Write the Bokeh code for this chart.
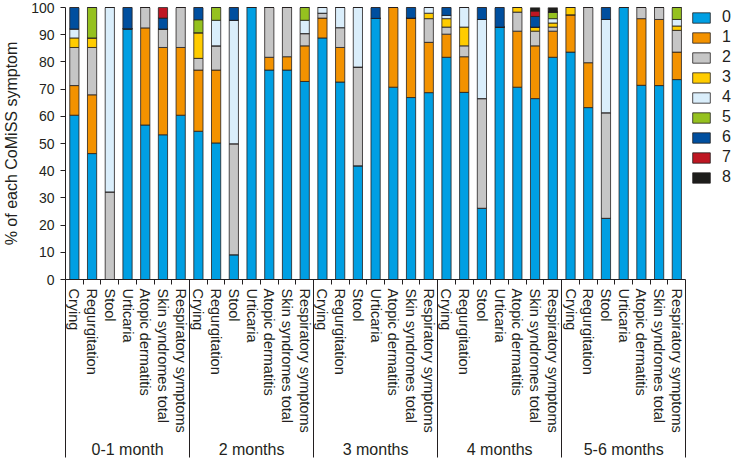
from bokeh.plotting import figure
from bokeh.models import (Range1d, ColumnDataSource, LinearAxis, FixedTicker,
                          SingleIntervalTicker, Legend, LegendItem)
from bokeh.embed import file_html
from bokeh.resources import INLINE

groups = ["0-1 month", "2 months", "3 months", "4 months", "5-6 months"]
symptoms = ["Crying", "Regurgitation", "Stool", "Urticaria", "Atopic dermatitis",
            "Skin syndromes total", "Respiratory symptoms"]
levels = ["0", "1", "2", "3", "4", "5", "6", "7", "8"]
colors = ["#009fe3", "#f39200", "#c6c6c6", "#ffcc00", "#daeefb", "#95c11f", "#004f9f", "#be1622", "#1d1d1b"]

# % of infants with each CoMiSS score, group-major / symptom-minor order
score0 = [60.4, 46.3, 0, 92.2, 56.8, 53.2, 60.4,
          54.5, 50.2, 9.1, 100, 77.0, 77.0, 72.8,
          88.8, 72.6, 41.8, 96.0, 70.7, 66.9, 68.7,
          81.7, 68.8, 26.2, 92.8, 70.7, 66.5, 81.7,
          83.6, 63.2, 22.5, 100, 71.4, 71.3, 73.5]
score1 = [10.9, 21.6, 0, 0, 35.7, 32.1, 24.9,
          22.5, 26.8, 0, 0, 4.7, 4.9, 13.1,
          7.3, 12.7, 0, 0, 29.3, 29.2, 18.5,
          8.5, 13.1, 0, 0, 20.6, 19.4, 9.6,
          13.7, 16.5, 0, 0, 24.5, 24.3, 10.1]
score2 = [14.0, 17.4, 32.2, 0, 7.5, 6.8, 14.7,
          4.3, 8.9, 40.8, 0, 18.3, 18.1, 4.5,
          1.8, 7.3, 36.3, 0, 0, 0, 8.7,
          2.6, 4.0, 40.3, 0, 7.0, 5.4, 1.5,
          0, 20.3, 38.8, 0, 4.1, 4.4, 8.0]
score3 = [3.5, 3.5, 0, 0, 0, 0, 0,
          9.4, 0, 0, 0, 0, 0, 0,
          0, 0, 0, 0, 0, 0, 2.0,
          3.1, 6.9, 0, 0, 1.7, 1.5, 1.5,
          2.7, 0, 0, 0, 0, 0, 1.6]
score4 = [3.3, 0, 67.8, 0, 0, 0, 0,
          0, 9.4, 45.4, 0, 0, 0, 4.9,
          2.1, 7.4, 21.9, 0, 0, 0, 2.1,
          1.2, 7.2, 29.1, 0, 0, 0, 1.6,
          0, 0, 34.3, 0, 0, 0, 2.4]
score5 = [0, 11.2, 0, 0, 0, 0, 0,
          4.8, 4.7, 0, 0, 0, 0, 4.7,
          0, 0, 0, 0, 0, 0, 0,
          0, 0, 0, 0, 0, 0, 2.4,
          0, 0, 0, 0, 0, 0, 4.4]
score6 = [7.9, 0, 0, 7.8, 0, 4.0, 0,
          4.5, 0, 4.7, 0, 0, 0, 0,
          0, 0, 0, 4.0, 0, 3.9, 0,
          2.9, 0, 4.4, 7.2, 0, 3.9, 0,
          0, 0, 4.4, 0, 0, 0, 0]
score7 = [0, 0, 0, 0, 0, 3.9, 0,
          0, 0, 0, 0, 0, 0, 0,
          0, 0, 0, 0, 0, 0, 0,
          0, 0, 0, 0, 0, 2.0, 0,
          0, 0, 0, 0, 0, 0, 0]
score8 = [0, 0, 0, 0, 0, 0, 0,
          0, 0, 0, 0, 0, 0, 0,
          0, 0, 0, 0, 0, 0, 0,
          0, 0, 0, 0, 0, 1.3, 1.7,
          0, 0, 0, 0, 0, 0, 0]

scores = [score0, score1, score2, score3, score4, score5, score6, score7, score8]
ns = len(symptoms)
n = len(groups) * ns
centers = [i + 0.5 for i in range(n)]
bounds = list(range(n + 1))
cat_labels = {c: symptoms[i % ns] for i, c in enumerate(centers)}
g_centers = [gi * ns + ns / 2 for gi in range(len(groups))]
g_labels = {c: g for c, g in zip(g_centers, groups)}
g_bounds = [gi * ns for gi in range(len(groups) + 1)]

data = {"x": centers}
for lvl, sc in zip(levels, scores):
    data[lvl] = sc
src = ColumnDataSource(data)

FONT = "Liberation Sans"
TXT = "#231f20"

# extra room on the right of the x range holds the legend
p = figure(width=735, height=460, x_range=Range1d(0, n * 1.0803), y_range=Range1d(0, 100),
           x_axis_location=None, output_backend="svg", toolbar_location=None,
           min_border_left=62, min_border_top=7, min_border_right=0, min_border_bottom=0)

rs = p.vbar_stack(levels, x="x", width=0.52, color=colors, line_color="#231f20",
                  line_width=0.8, source=src)

p.xgrid.visible = False
p.ygrid.visible = False
p.outline_line_color = None
p.background_fill_color = None

# y axis
ya = p.yaxis[0]
ya.ticker = SingleIntervalTicker(interval=10, num_minor_ticks=0)
ya.axis_label = "% of each CoMiSS symptom"
ya.axis_label_text_font = FONT
ya.axis_label_text_font_style = "normal"
ya.axis_label_text_font_size = "16px"
ya.axis_label_text_color = TXT
ya.major_label_text_font = FONT
ya.major_label_text_font_size = "14px"
ya.major_label_text_color = TXT
ya.major_label_standoff = 6
ya.major_tick_out = 5
ya.major_tick_in = 0
ya.minor_tick_out = 0
ya.axis_line_color = TXT
ya.major_tick_line_color = TXT
ya.axis_label_standoff = 8

# x axis: symptom labels, small ticks at bar boundaries
cat_axis = LinearAxis(ticker=FixedTicker(ticks=centers, minor_ticks=bounds), bounds=(0, n),
                      major_label_overrides=cat_labels, major_label_orientation="vertical",
                      major_tick_out=0, major_tick_in=0, minor_tick_out=5, minor_tick_in=0,
                      axis_line_color=TXT, minor_tick_line_color=TXT,
                      major_label_text_font=FONT, major_label_text_font_size="14.5px",
                      major_label_text_color=TXT, major_label_standoff=4)
p.add_layout(cat_axis, "below")

# group labels; minor ticks at group boundaries act as separators
grp_axis = LinearAxis(ticker=FixedTicker(ticks=g_centers, minor_ticks=g_bounds), bounds=(0, n),
                      major_label_overrides=g_labels,
                      major_tick_out=0, major_tick_in=0, minor_tick_in=155, minor_tick_out=22,
                      axis_line_color=None, minor_tick_line_color=TXT,
                      major_label_text_font=FONT, major_label_text_font_size="16px",
                      major_label_text_color=TXT, major_label_standoff=-17)
p.add_layout(grp_axis, "below")

legend = Legend(items=[LegendItem(label=l, renderers=[r]) for l, r in zip(levels, rs)],
                location="top_right", glyph_width=22, glyph_height=13, label_standoff=10,
                label_width=13, label_height=20, spacing=0, padding=0, margin=0,
                border_line_color=None, background_fill_alpha=0,
                label_text_font=FONT, label_text_font_size="16px", label_text_color=TXT)
p.add_layout(legend, "center")

open("out.html", "w").write(file_html(p, INLINE))
